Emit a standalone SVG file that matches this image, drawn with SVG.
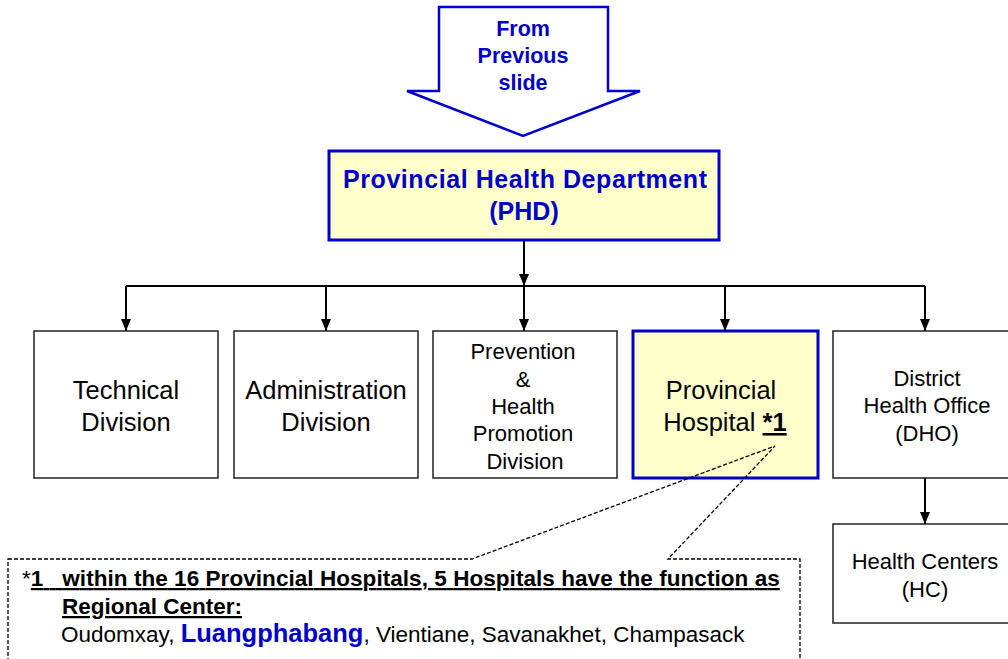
<svg xmlns="http://www.w3.org/2000/svg" width="1008" height="659" viewBox="0 0 1008 659">
  <style>
    text { font-family: "Liberation Sans", Arial, sans-serif; fill: #000; }
    .box { fill: #fff; stroke: #222; stroke-width: 1.5; }
    .hl { fill: #ffffcc; stroke: #0000cc; stroke-width: 3; }
    .blue { fill: #0000cc; font-weight: bold; }
    .lbl { font-size: 25.5px; text-anchor: middle; }
    .sm { font-size: 22px; text-anchor: middle; }
    .conn { stroke: #000; stroke-width: 2; fill: none; }
    .note { font-size: 22.5px; }
  </style>
  <defs>
    <marker id="ah" markerUnits="userSpaceOnUse" viewBox="0 0 12 10" markerWidth="12" markerHeight="10" refX="12" refY="5" orient="auto">
      <path d="M0,0 L12,5 L0,10 z" fill="#000"/>
    </marker>
  </defs>
  <rect width="1008" height="659" fill="#fff"/>

  <g id="from-previous">
    <polygon points="439,7 608,7 608,91 640,91 523,136 407,91 439,91" fill="#fff" stroke="#0000cc" stroke-width="2.5"/>
    <text class="blue" x="523" y="36" font-size="21.5" text-anchor="middle">From</text>
    <text class="blue" x="523" y="63" font-size="21.5" text-anchor="middle">Previous</text>
    <text class="blue" x="523" y="90" font-size="21.5" text-anchor="middle">slide</text>
  </g>

  <g id="phd">
    <rect class="hl" x="329" y="151" width="390" height="89"/>
    <text class="blue" x="525" y="188" font-size="25" text-anchor="middle" textLength="364">Provincial Health Department</text>
    <text class="blue" x="524" y="220" font-size="25" text-anchor="middle">(PHD)</text>
  </g>

  <g id="technical">
    <rect class="box" x="34" y="331" width="184" height="147"/>
    <text class="lbl" x="126" y="399">Technical</text>
    <text class="lbl" x="126" y="431">Division</text>
  </g>

  <g id="administration">
    <rect class="box" x="234" y="331" width="184" height="147"/>
    <text class="lbl" x="326" y="399">Administration</text>
    <text class="lbl" x="326" y="431">Division</text>
  </g>

  <g id="prevention">
    <rect class="box" x="433" y="331" width="184" height="147"/>
    <text class="sm" x="523" y="359">Prevention</text>
    <text class="sm" x="523" y="387">&amp;</text>
    <text class="sm" x="523" y="414">Health</text>
    <text class="sm" x="523" y="441">Promotion</text>
    <text class="sm" x="525" y="469">Division</text>
  </g>

  <g id="provincial-hospital">
    <rect class="hl" x="633" y="331" width="185" height="147"/>
    <text class="lbl" x="721" y="399">Provincial</text>
    <text class="lbl" x="725" y="431">Hospital <tspan font-weight="bold" text-decoration="underline">*1</tspan></text>
  </g>

  <g id="dho">
    <rect class="box" x="833" y="331" width="184" height="147"/>
    <text class="sm" x="927" y="386">District</text>
    <text class="sm" x="927" y="413">Health Office</text>
    <text class="sm" x="927" y="441">(DHO)</text>
  </g>

  <g id="hc">
    <rect class="box" x="833" y="524" width="184" height="99"/>
    <text class="sm" x="925" y="569">Health Centers</text>
    <text class="sm" x="925" y="597">(HC)</text>
  </g>

  <g id="connectors">
    <line class="conn" x1="524" y1="241" x2="524" y2="286" marker-end="url(#ah)"/>
    <line class="conn" x1="126" y1="286" x2="925" y2="286"/>
    <line class="conn" x1="126" y1="286" x2="126" y2="331" marker-end="url(#ah)"/>
    <line class="conn" x1="326" y1="286" x2="326" y2="331" marker-end="url(#ah)"/>
    <line class="conn" x1="524" y1="286" x2="524" y2="331" marker-end="url(#ah)"/>
    <line class="conn" x1="725" y1="286" x2="725" y2="331" marker-end="url(#ah)"/>
    <line class="conn" x1="925" y1="286" x2="925" y2="331" marker-end="url(#ah)"/>
    <line class="conn" x1="925" y1="478" x2="925" y2="524" marker-end="url(#ah)"/>
  </g>

  <g id="callout">
    <path d="M8,559 L472,559 L775,446 L668,559 L800,559 L800,700 L8,700 Z" fill="none" stroke="#000" stroke-width="1.3" stroke-dasharray="4 2"/>
    <text class="note" x="22" y="586" xml:space="preserve">*<tspan font-weight="bold" text-decoration="underline" textLength="749">1   within the 16 Provincial Hospitals, 5 Hospitals have the function as</tspan></text>
    <text class="note" x="62" y="614" font-weight="bold" text-decoration="underline" font-size="21.5">Regional Center:</text>
    <text class="note" x="61" y="642">Oudomxay, <tspan class="blue" font-size="25.5">Luangphabang</tspan>, Vientiane, Savanakhet, Champasack</text>
  </g>
</svg>
